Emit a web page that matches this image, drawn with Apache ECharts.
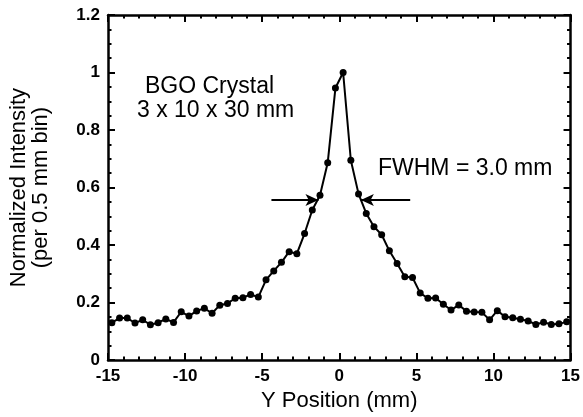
<!DOCTYPE html>
<html>
<head>
<meta charset="utf-8">
<script src="https://cdn.jsdelivr.net/npm/echarts@6/dist/echarts.min.js"></script>
<style>
html,body{margin:0;padding:0;background:#fff;}
#chart{width:583px;height:417px;}
</style>
</head>
<body>
<div id="chart"></div>
<script>
// bin centres (mm) and normalized intensity
var yPos = [-14.75,-14.25,-13.75,-13.25,-12.75,-12.25,-11.75,-11.25,-10.75,-10.25,
	-9.75,-9.25,-8.75,-8.25,-7.75,-7.25,-6.75,-6.25,-5.75,-5.25,
	-4.75,-4.25,-3.75,-3.25,-2.75,-2.25,-1.75,-1.25,-0.75,-0.25,
	0.25,0.75,1.25,1.75,2.25,2.75,3.25,3.75,4.25,4.75,
	5.25,5.75,6.25,6.75,7.25,7.75,8.25,8.75,9.25,9.75,
	10.25,10.75,11.25,11.75,12.25,12.75,13.25,13.75,14.25,14.75];
var intensity = [0.130,0.146,0.146,0.129,0.140,0.123,0.130,0.143,0.131,0.168,
	0.153,0.171,0.180,0.163,0.191,0.197,0.215,0.217,0.228,0.219,
	0.279,0.310,0.340,0.377,0.370,0.440,0.522,0.573,0.686,0.946,
	1.000,0.695,0.578,0.510,0.464,0.436,0.380,0.336,0.290,0.287,
	0.233,0.215,0.216,0.194,0.174,0.192,0.170,0.167,0.166,0.140,
	0.172,0.151,0.147,0.142,0.136,0.124,0.132,0.124,0.126,0.133];

// FWHM arrows (data coords): [from, to]
var fwhmY = 0.557;
var arrowLeft = [-4.4, -1.35];
var arrowRight = [4.6, 1.4];

var font = '"Liberation Sans", Arial, Helvetica, sans-serif';

var chart = echarts.init(document.getElementById('chart'));

var pts = [];
for(var i=0;i<yPos.length;i++){
	pts.push([yPos[i], intensity[i]]);
}

function tickAxis(pos, isX){
	var a = {
		type: 'value',
		position: pos,
		min: isX ? -15 : 0,
		max: isX ? 15 : 1.2,
		interval: isX ? 5 : 0.2,
		axisLine: {show: true, onZero: false, lineStyle: {color: '#000', width: 2.5}},
		axisTick: {show: true, inside: true, length: 7, lineStyle: {color: '#000', width: 2}},
		minorTick: {show: true, splitNumber: isX ? 5 : 4, length: 3.5, lineStyle: {color: '#000', width: 2}},
		splitLine: {show: false},
		axisLabel: {show: false}
	};
	return a;
}

var xMain = tickAxis('bottom', true);
xMain.axisLabel = {show: true, margin: 8, color: '#000', fontSize: 17, fontWeight: 'bold', fontFamily: font};
xMain.name = 'Y Position (mm)';
xMain.nameLocation = 'middle';
xMain.nameGap = 27;
xMain.nameTextStyle = {color: '#000', fontSize: 22, fontFamily: font};

var yMain = tickAxis('left', false);
yMain.axisLabel = {show: true, margin: 8, color: '#000', fontSize: 17, fontWeight: 'bold', fontFamily: font};
yMain.name = 'Normalized Intensity\n(per 0.5 mm bin)';
yMain.nameLocation = 'middle';
yMain.nameGap = 56;
yMain.nameTextStyle = {color: '#000', fontSize: 22, lineHeight: 22, fontFamily: font};

option = {
	backgroundColor: '#fff',
	animation: false,
	grid: {left: 108, right: 10, top: 15, bottom: 51},
	xAxis: [xMain, tickAxis('top', true)],
	yAxis: [yMain, tickAxis('right', false)],
	graphic: [
		{type: 'text', left: 145, top: 75, style: {text: 'BGO Crystal', fontSize: 23, fill: '#000', fontFamily: font}},
		{type: 'text', left: 137, top: 99, style: {text: '3 x 10 x 30 mm', fontSize: 23, fill: '#000', fontFamily: font}},
		{type: 'text', left: 378, top: 157, style: {text: 'FWHM = 3.0 mm', fontSize: 23, fill: '#000', fontFamily: font}}
	],
	series: [{
		type: 'line',
		data: pts,
		symbol: 'circle',
		symbolSize: 7,
		lineStyle: {color: '#000', width: 2},
		itemStyle: {color: '#000'},
		markLine: {
			silent: true,
			symbol: ['none', 'arrow'],
			symbolSize: [9, 13],
			label: {show: false},
			lineStyle: {color: '#000', width: 2, type: 'solid'},
			data: [
				[{coord: [arrowLeft[0], fwhmY]}, {coord: [arrowLeft[1], fwhmY]}],
				[{coord: [arrowRight[0], fwhmY]}, {coord: [arrowRight[1], fwhmY]}]
			]
		}
	}]
};

chart.setOption(option);
</script>
</body>
</html>
